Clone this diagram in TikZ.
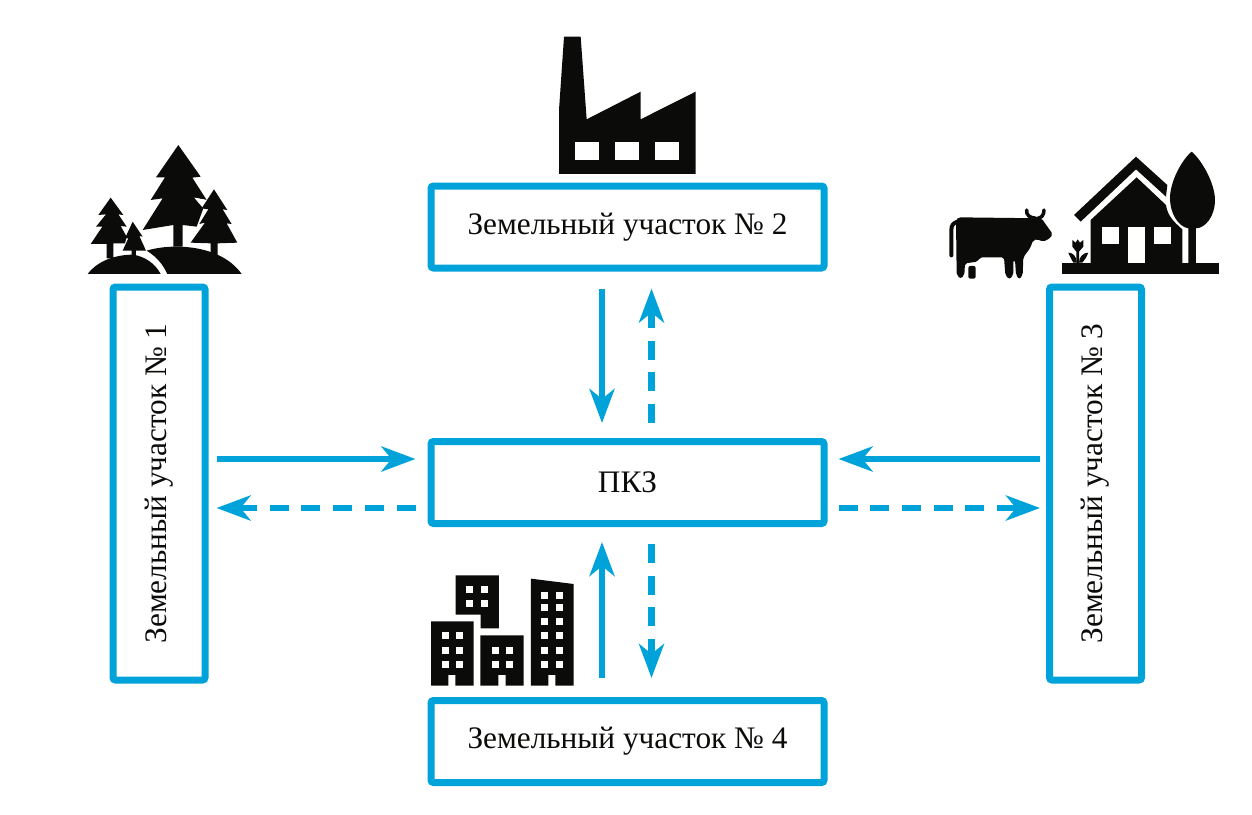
\documentclass[tikz,border=0pt]{standalone}
\usepackage{fontspec}
\usepackage{graphicx}
\setmainfont{Liberation Serif}
\usetikzlibrary{arrows.meta, positioning}
\definecolor{bluec}{HTML}{00A3D9}
\definecolor{iconc}{HTML}{0B0B09}

\begin{document}
\begin{tikzpicture}[>=Stealth, x=1pt, y=-1pt, font=\fontsize{31.3}{36}\selectfont,
      plotw/.style={rounded corners=2.5pt, draw=bluec, line width=7pt, text=iconc,
                  minimum width=393pt, minimum height=82pt},
      plott/.style={rounded corners=2.5pt, draw=bluec, line width=7pt, text=iconc,
                  minimum width=92pt, minimum height=393pt},
      ar/.style={-{Stealth[length=34pt, width=25pt, inset=10pt]}, draw=bluec, line width=6.5pt},
      ard/.style={ar, dash pattern=on 19pt off 12.7pt},
      icon/.style={fill=iconc, draw=none},
      hole/.style={fill=white, draw=none},
      zoomed/.style={x=0.3333pt, y=-0.3333pt}]
    \useasboundingbox (0,0) rectangle (1252,814);
    \node[plott] (plot1) at (159,483.5) {\rotatebox{90}{Земельный участок № 1}};
    \node[plotw] (plot2) at (627.5,227) {Земельный участок № 2};
    \node[plott] (plot3) at (1095.5,483.5) {\rotatebox{90}{Земельный участок № 3}};
    \node[plotw] (plot4) at (627.5,741.5) {Земельный участок № 4};
    \node[plotw] (pkz) at (627.5,482.5) {ПКЗ};
    % connectors
    \draw[ar, shorten <=8pt, shorten >=12pt] ([yshift=24.5pt]plot1.east) -- ([yshift=23.5pt]pkz.west);
    \draw[ard, shorten <=12pt, shorten >=8pt] ([yshift=-25.5pt]pkz.west) -- ([yshift=-24.5pt]plot1.east);
    \draw[ar, shorten <=6pt, shorten >=11pt] ([yshift=24.5pt]plot3.west) -- ([yshift=23.5pt]pkz.east);
    \draw[ard, shorten <=11pt, shorten >=6pt] ([yshift=-25.5pt]pkz.east) -- ([yshift=-24.5pt]plot3.west);
    \draw[ar, shorten <=17pt, shorten >=15pt] ([xshift=-25.5pt]plot2.south) -- ([xshift=-25.5pt]pkz.north);
    \draw[ard, shorten <=15pt, shorten >=17pt] ([xshift=24pt]pkz.north) -- ([xshift=24pt]plot2.south);
    \draw[ar, shorten <=19pt, shorten >=15pt] ([xshift=-25.5pt]plot4.north) -- ([xshift=-25.5pt]pkz.south);
    \draw[ard, shorten <=17pt, shorten >=19pt] ([xshift=24pt]pkz.south) -- ([xshift=24pt]plot4.north);
    % forest
    \begin{scope}[shift={(70,130)}, zoomed]
      \fill[icon] (325,45) -- (392,140) -- (367,143) -- (410,210) -- (373,203) -- (400,235) -- (380,290)
        -- (338,285) -- (338,350) -- (310,350) -- (310,285) -- (218,300) -- (278,205) -- (242,210)
        -- (285,142) -- (258,142) -- cycle;
      \fill[hole] (373,203) -- (410,210) -- (398,232) -- cycle;
      \fill[icon] (432,178) -- (472,240) -- (458,238) -- (485,282) -- (470,280) -- (502,338) -- (443,340)
        -- (443,378) -- (422,378) -- (422,340) -- (362,338) -- (405,278) -- (388,282) -- (415,238)
        -- (395,235) -- cycle;
      \fill[icon] (122,203) -- (160,255) -- (145,253) -- (170,290) -- (152,288) -- (170,320) -- (165,340)
        -- (130,340) -- (130,385) -- (110,385) -- (110,342) -- (62,342) -- (97,290) -- (78,290)
        -- (108,253) -- (85,255) -- cycle;
      \fill[icon] (188,275) -- (218,320) -- (208,318) -- (228,362) -- (198,362) -- (198,380) -- (185,380)
        -- (185,362) -- (158,362) -- (175,325) -- (165,325) -- cycle;
      \fill[icon] (53,432) .. controls (85,390) and (140,374) .. (190,374)
        .. controls (225,380) and (255,400) .. (272,432) -- cycle;
      \fill[icon] (292,432) .. controls (280,405) and (260,380) .. (230,362)
        .. controls (300,340) and (450,340) .. (515,432) -- cycle;
    \end{scope}
    % factory
    \begin{scope}[shift={(540,30)}, zoomed]
      \fill[icon] (72,20) -- (122,20) -- (140,268) -- (302,185) -- (302,268) -- (467,185) -- (467,432)
        -- (57,432) -- (57,240) -- cycle;
      \foreach \i in {105,225,345}{
        \fill[hole] (\i,335) rectangle (\i+73,390);}
    \end{scope}
    % cow and house
    \begin{scope}[shift={(930,140)}, zoomed]
      \fill[icon, rounded corners=2pt] (78,240) -- (85,232) -- (335,235) -- (345,250) -- (368,282) -- (360,295)
        -- (340,305) -- (322,298) -- (310,300) -- (300,325) -- (280,352) -- (278,405) -- (268,418)
        -- (258,405) -- (255,360) -- (250,360) -- (250,405) -- (238,418) -- (226,405) -- (222,352)
        -- (150,352) -- (143,365) -- (105,370) -- (103,405) -- (92,416) -- (80,405) -- cycle;
      \draw[iconc, line width=4pt, line cap=round] (64,346) -- (64,270) .. controls (64,255) and (70,250) .. (82,245);
      \draw[iconc, line width=3.5pt, line cap=round] (290,210) .. controls (288,225) and (300,234) .. (315,234);
      \draw[iconc, line width=3.5pt, line cap=round] (342,210) .. controls (342,225) and (335,234) .. (320,236);
      \fill[icon, rounded corners=2pt] (115,378) rectangle (137,416);
      \fill[icon] (432,225) -- (618,50) -- (712,135) -- (708,170) -- (618,88) -- (452,245) -- cycle;
      \fill[icon] (482,240) -- (620,112) -- (708,195) .. controls (712,225) and (730,245) .. (757,268)
        -- (757,370) -- (482,370) -- cycle;
      \fill[hole] (515,260) rectangle (566,312);
      \fill[hole] (594,260) rectangle (645,368);
      \fill[hole] (672,260) rectangle (724,312);
      \fill[icon] (397,370) rectangle (867,402);
      \fill[icon] (785,35) .. controls (815,60) and (855,130) .. (855,180)
        .. controls (855,230) and (825,265) .. (798,265) -- (798,372) -- (775,372) -- (775,265)
        .. controls (745,260) and (720,220) .. (720,175) .. controls (720,125) and (755,60) .. (785,35) -- cycle;
      \fill[icon] (427,300) -- (437,308) -- (443,298) -- (450,308) -- (460,300) -- (460,320) -- (447,335)
        -- (447,372) -- (439,372) -- (439,335) -- (427,320) -- cycle;
      \fill[icon] (415,338) .. controls (430,338) and (440,350) .. (440,368) -- (430,368) .. controls (425,360) and (420,350) .. (415,338) -- cycle;
      \fill[icon] (475,338) .. controls (460,338) and (447,350) .. (447,368) -- (457,368) .. controls (465,360) and (470,350) .. (475,338) -- cycle;
    \end{scope}
    % buildings
    \begin{scope}[shift={(420,560)}, zoomed]
      \fill[icon] (107,46) -- (237,46) -- (237,205) -- (182,205) -- (182,164) -- (107,164) -- cycle;
      \fill[icon] (33,184) -- (161,184) -- (161,377) -- (106,377) -- (106,345) -- (85,345) -- (85,377) -- (33,377) -- cycle;
      \fill[icon] (181,226) -- (311,226) -- (311,377) -- (257,377) -- (257,345) -- (235,345) -- (235,377) -- (181,377) -- cycle;
      \fill[icon] (333,56) -- (461,72) -- (461,377) -- (406,377) -- (406,345) -- (385,345) -- (385,377) -- (333,377) -- cycle;
      \foreach \i/\j in {139/77, 182/77, 139/120, 182/120,
                         65/216, 108/216, 65/260, 108/260, 65/302, 108/302,
                         215/260, 257/260, 215/302, 257/302,
                         364/95, 407/95, 364/133, 407/133, 364/175, 407/175,
                         364/217, 407/217, 364/260, 407/260, 364/302, 407/302}{
        \fill[hole] (\i,\j) rectangle (\i+21,\j+21);}
    \end{scope}
  \end{tikzpicture}
\end{document}
